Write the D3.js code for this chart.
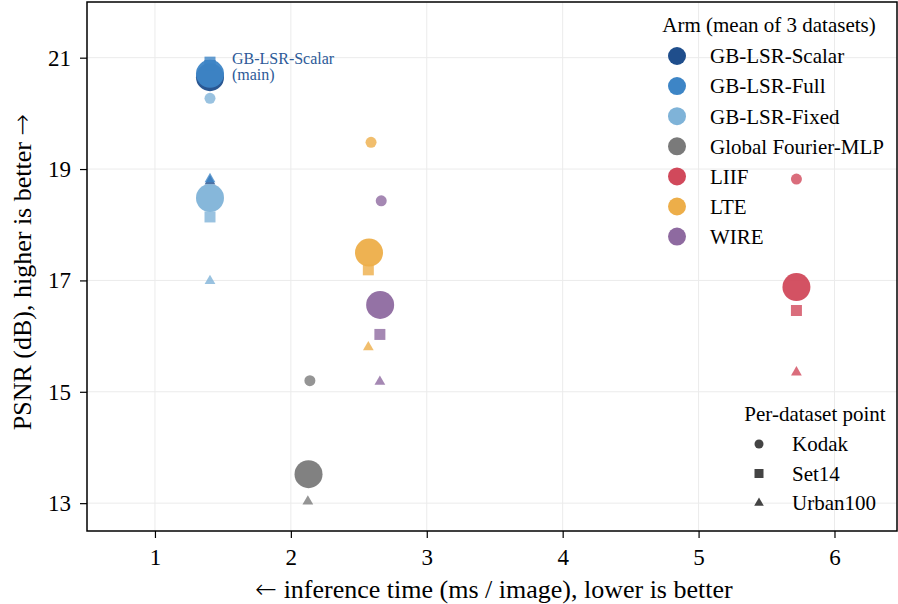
<!DOCTYPE html>
<html>
<head>
<meta charset="utf-8">
<script src="https://cdn.jsdelivr.net/npm/d3@7"></script>
<style>
  html, body { margin: 0; padding: 0; background: #fff; }
  svg { display: block; font-family: "Liberation Serif", "Times New Roman", serif; }
  .arrow { font-family: "DejaVu Sans", sans-serif; font-weight: 200; }
</style>
</head>
<body>
<svg id="chart" width="898" height="604"></svg>
<script>
// Arms compared: mean over the three datasets (large circles)
const arms = ["GB-LSR-Scalar", "GB-LSR-Full", "GB-LSR-Fixed", "Global Fourier-MLP", "LIIF", "LTE", "WIRE"];
const armColors = ["#1f4e8c", "#3d85c6", "#7fb3d8", "#7a7a7a", "#d1495b", "#edae49", "#8e6aa0"];
const meanTime = [1.405, 1.405, 1.405, 2.13, 5.72, 2.575, 2.657];
const meanPsnr = [20.65, 20.71, 18.48, 13.52, 16.88, 17.50, 16.56];

// Per-dataset points (small markers)
const datasets = ["Kodak", "Set14", "Urban100"];
const kodakTime = [1.405, 1.405, 1.405, 2.14, 5.72, 2.59, 2.665];
const kodakPsnr = [22.30, 22.40, 20.27, 15.20, 18.82, 19.48, 18.43];
const set14Time = [1.405, 1.405, 1.405, 2.13, 5.72, 2.57, 2.655];
const set14Psnr = [20.86, 20.92, 18.14, 12.33, 16.46, 17.19, 16.03];
const urbanTime = [1.405, 1.405, 1.405, 2.125, 5.72, 2.57, 2.655];
const urbanPsnr = [18.78, 18.82, 16.99, 13.03, 15.35, 15.80, 15.18];

const xTicks = [1, 2, 3, 4, 5, 6];
const yTicks = [13, 15, 17, 19, 21];

const svg = d3.select("#chart");
const plotLeft = 87, plotRight = 897, plotTop = 2, plotBottom = 531;

const x = d3.scaleLinear().domain([0.5, 6.46]).range([plotLeft, plotRight]);
const y = d3.scaleLinear().domain([12.5, 22]).range([plotBottom, plotTop]);

svg.append("defs").append("clipPath").attr("id", "plotClip")
  .append("rect").attr("x", plotLeft).attr("y", plotTop)
  .attr("width", plotRight - plotLeft).attr("height", plotBottom - plotTop);

// grid
const grid = svg.append("g").attr("stroke", "#ebebeb").attr("stroke-width", 1);
grid.selectAll("line.gx").data(xTicks).join("line").attr("class", "gx")
  .attr("x1", d => x(d)).attr("x2", d => x(d)).attr("y1", plotTop).attr("y2", plotBottom);
grid.selectAll("line.gy").data(yTicks).join("line").attr("class", "gy")
  .attr("x1", plotLeft).attr("x2", plotRight).attr("y1", d => y(d)).attr("y2", d => y(d));

// axes
const xAxis = svg.append("g").attr("transform", `translate(0,${plotBottom})`)
  .call(d3.axisBottom(x).tickValues(xTicks).tickFormat(d3.format("d")).tickSize(7).tickPadding(11));
const yAxis = svg.append("g").attr("transform", `translate(${plotLeft},0)`)
  .call(d3.axisLeft(y).tickValues(yTicks).tickFormat(d3.format("d")).tickSize(7).tickPadding(9));
[xAxis, yAxis].forEach(g => {
  g.select(".domain").remove();
  g.selectAll(".tick line").attr("stroke", "#000").attr("stroke-width", 1.2);
  g.selectAll(".tick text").attr("fill", "#000").style("font-size", "23px")
    .style("font-family", "'Liberation Serif', 'Times New Roman', serif");
});

// markers
const plot = svg.append("g").attr("clip-path", "url(#plotClip)");
const shapes = [d3.symbolCircle, d3.symbolSquare, d3.symbolTriangle];
const sizes = [95, 121, 50];
const perDataset = [
  [kodakTime, kodakPsnr],
  [set14Time, set14Psnr],
  [urbanTime, urbanPsnr]
];
perDataset.forEach(([tArr, pArr], di) => {
  const pts = arms.map((a, i) => ({ t: tArr[i], p: pArr[i], c: armColors[i] }));
  plot.append("g").selectAll("path").data(pts).join("path")
    .attr("d", d3.symbol().type(shapes[di]).size(sizes[di]))
    .attr("transform", d => `translate(${x(d.t)},${y(d.p)})`)
    .attr("fill", d => d.c).attr("fill-opacity", 0.8);
});

plot.append("g").selectAll("circle")
  .data(arms.map((a, i) => ({ t: meanTime[i], p: meanPsnr[i], c: armColors[i] })))
  .join("circle")
  .attr("cx", d => x(d.t)).attr("cy", d => y(d.p)).attr("r", 14)
  .attr("fill", d => d.c).attr("fill-opacity", 0.95);

// annotation of the main arm
const ann = svg.append("text").attr("fill", "#2c5a98").style("font-size", "16px")
  .attr("x", x(meanTime[0]) + 22).attr("y", y(meanPsnr[1]) - 10);
ann.append("tspan").text("GB-LSR-Scalar");
ann.append("tspan").attr("x", x(meanTime[0]) + 22).attr("dy", 16.5).text("(main)");

// frame
svg.append("rect").attr("x", plotLeft).attr("y", plotTop)
  .attr("width", plotRight - plotLeft).attr("height", plotBottom - plotTop)
  .attr("fill", "none").attr("stroke", "#000").attr("stroke-width", 1.5);

// axis titles
const xTitle = svg.append("text").attr("x", (plotLeft + plotRight) / 2 + 2).attr("y", 597.5)
  .attr("text-anchor", "middle").style("font-size", "26px");
xTitle.append("tspan").attr("class", "arrow").text("\u2190");
xTitle.append("tspan").text(" inference time (ms / image), lower is better");

const yTitle = svg.append("text").attr("transform", `translate(31,272) rotate(-90)`)
  .attr("text-anchor", "middle").style("font-size", "26px");
yTitle.append("tspan").text("PSNR (dB), higher is better ");
yTitle.append("tspan").attr("class", "arrow").text("\u2192");

// legend: arms
const leg1 = svg.append("g");
leg1.append("text").attr("x", 769).attr("y", 32).attr("text-anchor", "middle").style("font-size", "21px")
  .text("Arm (mean of 3 datasets)");
arms.forEach((a, i) => {
  const yy = 56 + i * 30.1;
  leg1.append("circle").attr("cx", 677).attr("cy", yy).attr("r", 9).attr("fill", armColors[i]);
  leg1.append("text").attr("x", 710).attr("y", yy).attr("dy", "0.35em").style("font-size", "21px").text(a);
});

// legend: dataset markers
const leg2 = svg.append("g");
leg2.append("text").attr("x", 815).attr("y", 421).attr("text-anchor", "middle").style("font-size", "21px")
  .text("Per-dataset point");
const legSizes = [64, 81, 40];
datasets.forEach((d, i) => {
  const yy = 444 + i * 29.5;
  leg2.append("path").attr("d", d3.symbol().type(shapes[i]).size(legSizes[i]))
    .attr("transform", `translate(759,${yy})`).attr("fill", "#444");
  leg2.append("text").attr("x", 792).attr("y", yy).attr("dy", "0.35em").style("font-size", "21px").text(d);
});
</script>
</body>
</html>
